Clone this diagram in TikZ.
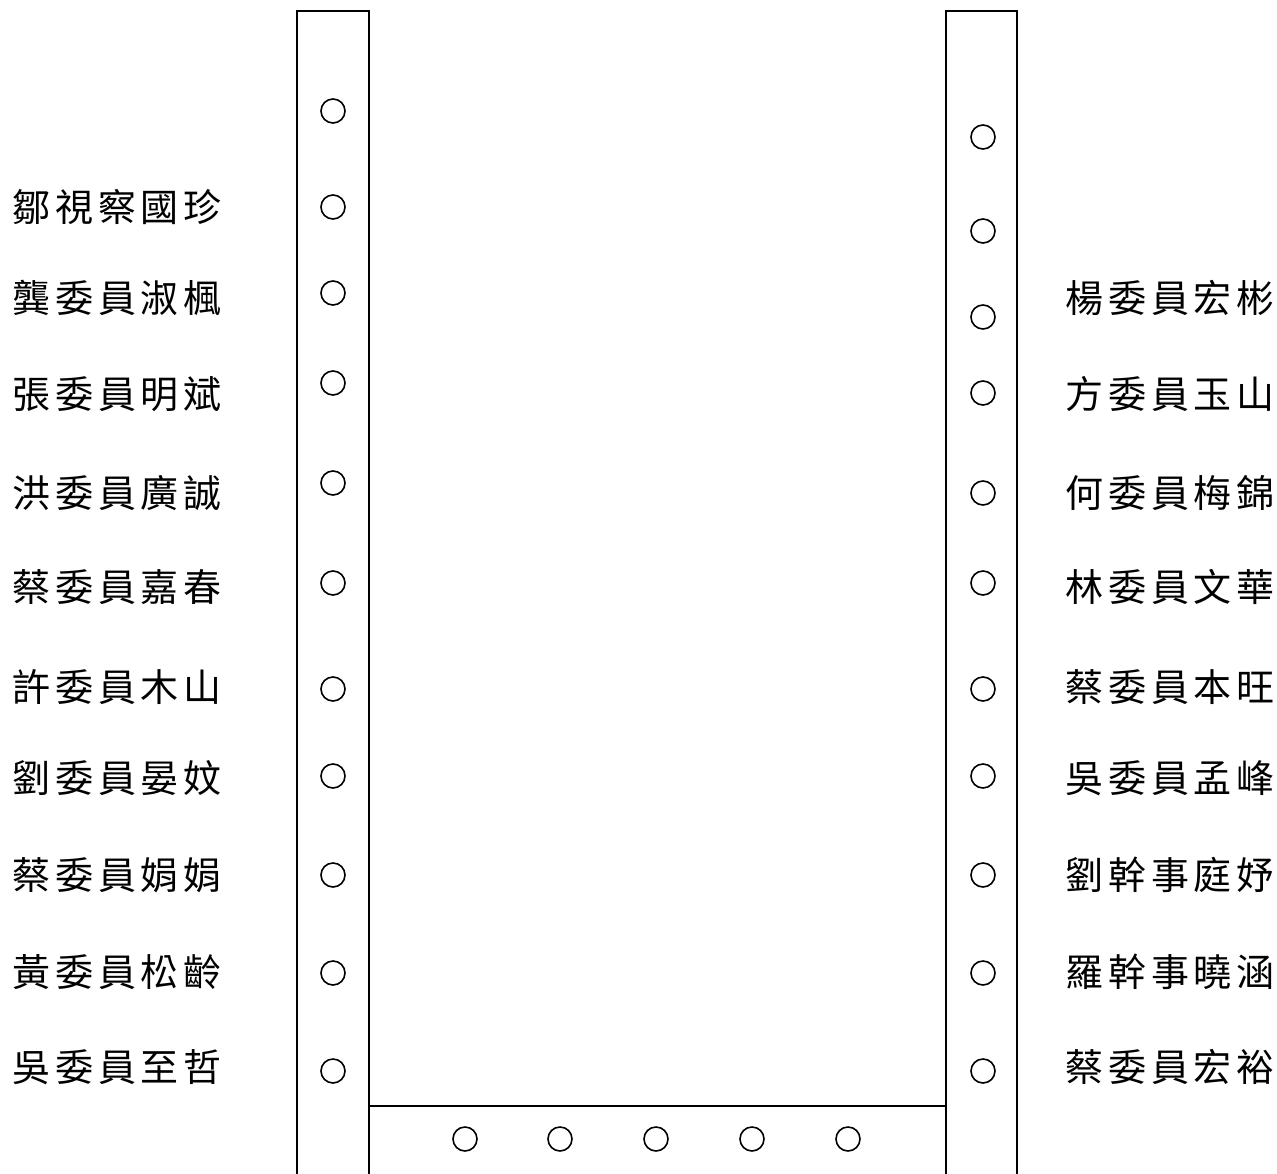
\documentclass[tikz,border=0pt]{standalone}
\usepackage{fontspec}
\newfontfamily\cjk[LetterSpace=13]{Noto Sans CJK TC}
\begin{document}
\begin{tikzpicture}[x=1pt,y=-1pt,
  bar/.style={draw=black,line width=1.9pt},
  seat/.style={circle,draw=black,line width=1.6pt,minimum size=24pt,inner sep=0pt},
  person/.style={anchor=base west,inner sep=0pt,font=\cjk\fontsize{38}{40}\selectfont}]
\useasboundingbox (0,0) rectangle (1277,1173);
\clip (0,0) rectangle (1277,1173);
% tables
\draw[bar] (297,1180) -- (297,11) -- (369,11) -- (369,1180);
\draw[bar] (946,1180) -- (946,11) -- (1017,11) -- (1017,1180);
\draw[bar] (369,1106) -- (946,1106);
% left seats
\foreach \y [count=\i] in {111,207,293,383,483,583,689,776,875,973,1071}
  \node[seat] (L\i) at (333,\y) {};
% right seats
\foreach \y [count=\i] in {137,231,317,393,493,583,689,776,875,973,1071}
  \node[seat] (R\i) at (983,\y) {};
% bottom seats
\foreach \x [count=\i] in {465,560,656,752,848}
  \node[seat] (B\i) at (\x,1139) {};
% left names
\foreach \y/\t [count=\i] in {207/鄒視察國珍,298/龔委員淑楓,394/張委員明斌,493/洪委員廣誠,587/蔡委員嘉春,687/許委員木山,778/劉委員晏妏,875/蔡委員娟娟,972/黃委員松齡,1067/吳委員至哲}
  \node[person] (LN\i) at (12,\y+14) {\t};
% right names
\foreach \y/\t [count=\i] in {298/楊委員宏彬,394/方委員玉山,493/何委員梅錦,587/林委員文華,687/蔡委員本旺,778/吳委員孟峰,875/劉幹事庭妤,972/羅幹事曉涵,1067/蔡委員宏裕}
  \node[person] (RN\i) at (1065,\y+14) {\t};
\end{tikzpicture}
\end{document}
